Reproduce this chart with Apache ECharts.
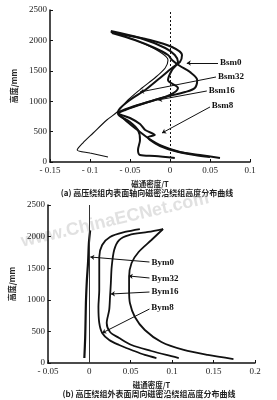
<!DOCTYPE html>
<html><head><meta charset="utf-8">
<script src="https://cdn.jsdelivr.net/npm/echarts@6/dist/echarts.min.js"></script>
<style>html,body{margin:0;padding:0;background:#fff}#c{width:277px;height:400px}</style>
</head><body><div id="c"></div>
<script>
// ---- data: chart (a), [flux density T, height mm]
const namesA = ['Bsm0','Bsm32','Bsm16','Bsm8'];
const bsm0 = [[-0.074,2138],[-0.05,2072],[-0.025,2007],[0.0025,1891],[0.015,1760],[0.0125,1645],[0.0025,1546],[-0.0125,1382],[-0.031,1184],[-0.05,1020],[-0.065,822],[-0.056,691],[-0.044,559],[-0.0275,395],[-0.01,263],[0.0125,164],[0.0375,115],[0.0625,66]];
const bsm32 = [[-0.0725,2122],[-0.044,2007],[-0.019,1875],[-0.0025,1760],[0.0025,1678],[0.0125,1579],[0.025,1480],[0.034,1349],[0.031,1217],[0.019,1151],[-0.006,1069],[-0.031,970],[-0.056,855],[-0.065,789],[-0.05,658],[-0.04,526],[-0.0375,362],[-0.04,197],[-0.0375,115],[-0.019,99],[0.006,66]];
const bsm16 = [[-0.074,2155],[-0.0375,2039],[-0.006,1875],[0.006,1760],[0.01,1645],[0.0025,1513],[-0.0025,1349],[0.01,1217],[0,1102],[-0.019,1020],[-0.044,921],[-0.065,806],[-0.05,724],[-0.0375,625],[-0.031,526],[-0.019,444],[-0.0275,411],[-0.025,362],[-0.0125,263],[0.006,181],[0.031,115],[0.05,82]];
const bsm8 = [[-0.0725,2138],[-0.0375,1974],[-0.0125,1809],[-0.0025,1678],[-0.006,1546],[-0.019,1382],[-0.035,1217],[-0.0525,1020],[-0.066,822],[-0.079,691],[-0.096,477],[-0.109,312],[-0.116,197],[-0.1,148],[-0.0775,82]];
// ---- data: chart (b)
const namesB = ['Bym0','Bym32','Bym16','Bym8'];
const bym0 = [[-0.006,80],[-0.005,400],[-0.0045,700],[-0.004,1000],[-0.003,1300],[-0.0015,1600],[-0.0005,1900],[0.001,2100]];
const bym32 = [[0.089,2120],[0.075,1946],[0.0595,1756],[0.051,1582],[0.048,1361],[0.048,1155],[0.049,949],[0.055,728],[0.067,522],[0.087,332],[0.114,206],[0.143,127],[0.174,63]];
const bym16 = [[0.089,2120],[0.071,2073],[0.048,2025],[0.036,1946],[0.03,1788],[0.027,1519],[0.026,1266],[0.025,1044],[0.024,839],[0.021,633],[0.025,491],[0.036,396],[0.051,285],[0.075,190],[0.093,127],[0.108,79]];
const bym8 = [[0.061,2120],[0.043,2073],[0.025,1994],[0.0155,1867],[0.012,1677],[0.012,1424],[0.012,1155],[0.011,886],[0.012,633],[0.0155,475],[0.024,364],[0.036,285],[0.051,206],[0.067,127],[0.081,79]];
// ---- tick labels / texts
const yTicks = ['0','500','1000','1500','2000','2500'];
const xTitle = '磁通密度/T';
const yTitle = '高度/mm';
const captionA = '(a) 高压绕组内表面轴向磁密沿绕组高度分布曲线';
const captionB = '(b) 高压绕组外表面周向磁密沿绕组高度分布曲线';
const watermark = 'www.ChinaECNet.com';
// leader lines: [curve point, label point]
const leadA = [[[0.021,1628],[0.06,1628]],[[-0.0375,1151],[0.0575,1398]],[[-0.015,1020],[0.046,1168]],[[-0.01,477],[0.05,905]]];
const leadB = [[[0.0012,1677],[0.0726,1598]],[[0.0476,1377],[0.0726,1345]],[[0.026,1092],[0.0726,1123]],[[0.0155,475],[0.0726,854]]];

const serif = 'Liberation Serif';
const cjk = 'Noto Sans CJK SC';
function fmt(v){ if (Math.abs(v) < 1e-9) return '0'; const a = String(+Math.abs(v).toFixed(2)); return v < 0 ? '- ' + a : a; }
function yfmt(v){ return yTicks[Math.round(v/500)]; }
function xAx(idx,min,max){ return {gridIndex:idx,type:'value',min:min,max:max,interval:0.05,
  axisLine:{onZero:false,lineStyle:{color:'#111',width:1.5}},axisTick:{inside:true,length:3,lineStyle:{color:'#111'}},
  splitLine:{show:false},axisLabel:{formatter:fmt,fontFamily:serif,fontSize:9,color:'#222',margin:4},
  name:xTitle,nameLocation:'middle',nameGap:18,nameTextStyle:{fontFamily:cjk,fontSize:7.5,color:'#222',fontWeight:'bold'}}; }
function yAx(idx){ return {gridIndex:idx,type:'value',min:0,max:2500,interval:500,
  axisLine:{onZero:false,lineStyle:{color:'#111',width:1.5}},axisTick:{inside:true,length:3,lineStyle:{color:'#111'}},
  splitLine:{show:false},axisLabel:{formatter:yfmt,fontFamily:serif,fontSize:9,color:'#222',margin:3},
  name:yTitle,nameLocation:'middle',nameRotate:90,nameGap:31,nameTextStyle:{fontFamily:cjk,fontSize:8,color:'#222',fontWeight:'bold'}}; }
function lead(pair,name){ return [{coord:pair[0]},{coord:pair[1],label:{show:true,formatter:name,position:'end',distance:2,fontFamily:serif,fontSize:9,fontWeight:'bold',color:'#111'}}]; }
function curve(name,data,xi,w){ return {name:name,type:'line',xAxisIndex:xi,yAxisIndex:xi,data:data,showSymbol:false,symbol:'none',
  lineStyle:{color:'#111',width:w},smooth:0.3,z:3}; }

const seriesA = [bsm0,bsm32,bsm16,bsm8].map((d,i)=>curve(namesA[i],d,0,i===3?1.1:2));
const seriesB = [bym0,bym32,bym16,bym8].map((d,i)=>curve(namesB[i],d,1,i===0?2.2:1.8));
seriesA[0].markLine = {silent:true,symbol:['none','none'],lineStyle:{color:'#111',width:1,type:[2,2]},label:{show:false},data:[{xAxis:0}]};
seriesA[1].markLine = {silent:true,symbol:['arrow','none'],symbolSize:4,lineStyle:{color:'#111',width:1,type:'solid'},data:leadA.map((p,i)=>lead(p,namesA[i]))};
seriesB[0].markLine = {silent:true,symbol:['none','none'],lineStyle:{color:'#333',width:1,type:'solid'},label:{show:false},data:[{xAxis:0}]};
seriesB[1].markLine = {silent:true,symbol:['arrow','none'],symbolSize:4,lineStyle:{color:'#111',width:1,type:'solid'},data:leadB.map((p,i)=>lead(p,namesB[i]))};

const chart = echarts.init(document.getElementById('c'),null,{renderer:'canvas'});
chart.setOption({
  animation:false,backgroundColor:'#fff',
  grid:[{left:50,right:27,top:10,bottom:238},{left:46,right:22,top:205,bottom:37}],
  xAxis:[xAx(0,-0.15,0.1),xAx(1,-0.05,0.2)],
  yAxis:[yAx(0),yAx(1)],
  series:seriesA.concat(seriesB),
  graphic:[
    {type:'text',x:147,y:193,style:{text:captionA,font:'bold 8px "Noto Sans CJK SC"',fill:'#222',align:'center',verticalAlign:'middle'}},
    {type:'text',x:149,y:394,style:{text:captionB,font:'bold 8px "Noto Sans CJK SC"',fill:'#222',align:'center',verticalAlign:'middle'}},
    {type:'text',x:115,y:220,rotation:0.23,z:0,style:{text:watermark,font:'bold 18px "Liberation Sans"',fill:'rgba(200,200,200,0.55)',align:'center',verticalAlign:'middle'}}
  ]
});
</script></body></html>
